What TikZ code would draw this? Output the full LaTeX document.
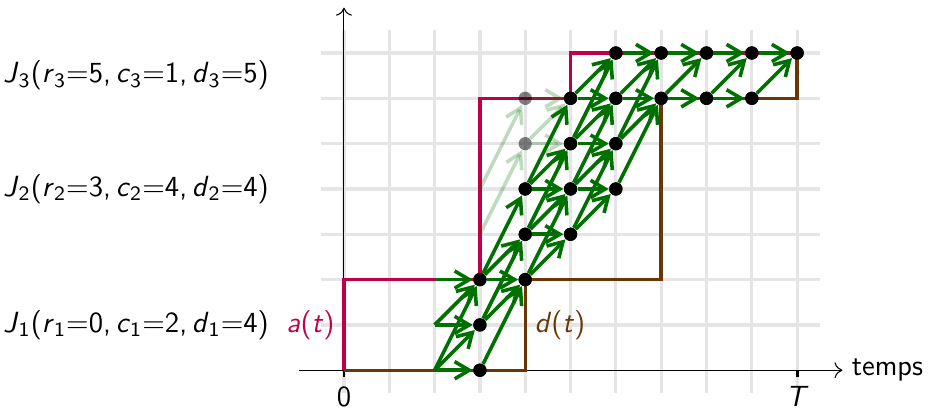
\documentclass[tikz,border=0pt]{standalone}
\usetikzlibrary{arrows.meta}
\definecolor{acol}{RGB}{191,0,72}
\definecolor{dcol}{RGB}{105,55,5}
\definecolor{gcol}{RGB}{0,112,0}
\newcommand\sv[2]{\textit{#1}\textsubscript{#2}}
\newcommand\eqq{${=}$}
\newcommand\cmm{,\kern1.8pt}
\begin{document}
\begin{tikzpicture}[x=0.6cm,y=0.6cm,
  font=\fontsize{11}{13}\selectfont\sffamily,
  gridline/.style={line width=1.2pt, black!10},
  axisline/.style={line width=0.4pt, black, -{To[length=3pt,width=6pt]}},
  tickmark/.style={line width=1.1pt, black},
  acurve/.style={line width=1.3pt, acol},
  dcurve/.style={line width=1.3pt, dcol},
  trans/.style={line width=1.35pt, gcol, -{Straight Barb[length=5.5pt,width=6.5pt]}},
  ftrans/.style={trans, opacity=0.25},
  dot/.style={circle, fill=black, inner sep=0pt, minimum size=5pt},
  fdot/.style={circle, inner sep=0pt, minimum size=5pt},
  joblabel/.style={anchor=east}]
\useasboundingbox (-7.59,-0.88) rectangle (12.91,8.17);
% grid
\foreach \i in {0,...,10} \draw[gridline] (\i,-0.5) -- (\i,7.5);
\foreach \j in {1,...,7} \draw[gridline] (-0.5,\j) -- (10.5,\j);
% axes
\coordinate (xs) at (-1,0);
\coordinate (xe) at (11,0);
\coordinate (ys) at (0,0);
\coordinate (ye) at (0,8);
\draw[axisline] (xs) -- (xe);
\draw[axisline] (ys) -- (ye);
\draw[tickmark] (0,0) -- (0,-0.15);
\draw[tickmark] (10,0) -- (10,-0.15);
\node[anchor=west] (temps) at (xe) {temps};
\node[anchor=north] (zero) at (0,-0.15) {0};
\node[anchor=north] (tT) at (10,-0.15) {\textit{T}};
% curves
\draw[dcurve] (0,0) -- (4,0) -- (4,2) -- (7,2) -- (7,6) -- (10,6) -- (10,7);
\draw[acurve] (0,0) -- (0,2) -- (3,2) -- (3,6) -- (5,6) -- (5,7) -- (10,7);
\node[anchor=east, text=acol] (alab) at (0,1) {\textit{a}(\textit{t})};
\node[anchor=west, text=dcol] (dlab) at (4,1) {\textit{d}(\textit{t})};
% job labels
\node[joblabel] (j3) at (-1.45,6.5) {\sv{J}{3}(\sv{r}{3}\eqq5\cmm\sv{c}{3}\eqq1\cmm\sv{d}{3}\eqq5)};
\node[joblabel] (j2) at (-1.45,4) {\sv{J}{2}(\sv{r}{2}\eqq3\cmm\sv{c}{2}\eqq4\cmm\sv{d}{2}\eqq4)};
\node[joblabel] (j1) at (-1.45,1) {\sv{J}{1}(\sv{r}{1}\eqq0\cmm\sv{c}{1}\eqq2\cmm\sv{d}{1}\eqq4)};
% state nodes
\coordinate (s2-0) at (2,0);
\coordinate (s2-1) at (2,1);
\coordinate (s2-2) at (2,2);
\coordinate (s3-3) at (3,3);
\coordinate (s3-4) at (3,4);
\foreach \t/\w in {3/0,3/1,3/2,4/2,4/3,4/4,5/3,5/4,5/5,5/6,6/4,6/5,6/6,6/7,7/6,7/7,8/6,8/7,9/6,9/7,10/7}
  \node[dot] (s\t-\w) at (\t,\w) {};
\node[fdot] (s4-5) at (4,5) {};
\node[fdot] (s4-6) at (4,6) {};
% transitions
\foreach \a/\b in {2-0/3-0,2-0/3-1,2-0/3-2,2-1/3-1,2-1/3-2,2-2/3-2,
  3-0/4-2,3-1/4-2,3-1/4-3,3-2/4-2,3-2/4-3,3-2/4-4,
  4-2/5-3,4-2/5-4,4-3/5-3,4-3/5-4,4-3/5-5,4-4/5-4,4-4/5-5,4-4/5-6,
  5-3/6-4,5-3/6-5,5-4/6-4,5-4/6-5,5-4/6-6,5-5/6-5,5-5/6-6,5-5/6-7,5-6/6-6,5-6/6-7,
  6-4/7-6,6-5/7-6,6-5/7-7,6-6/7-6,6-6/7-7,6-7/7-7,
  7-6/8-6,7-6/8-7,7-7/8-7,8-6/9-6,8-6/9-7,8-7/9-7,9-6/10-7,9-7/10-7}
  \draw[trans] (s\a) -- (s\b);
\foreach \a/\b in {3-3/4-5,3-4/4-6,4-5/5-5,4-5/5-6,4-6/5-6}
  \draw[ftrans] (s\a) -- (s\b);
% dots on top
\foreach \t/\w in {3/0,3/1,3/2,4/2,4/3,4/4,5/3,5/4,5/5,5/6,6/4,6/5,6/6,6/7,7/6,7/7,8/6,8/7,9/6,9/7,10/7}
  \fill (s\t-\w) circle (2.5pt);
\fill[opacity=0.5] (s4-5) circle (2.5pt);
\fill[opacity=0.5] (s4-6) circle (2.5pt);
\end{tikzpicture}
\end{document}
